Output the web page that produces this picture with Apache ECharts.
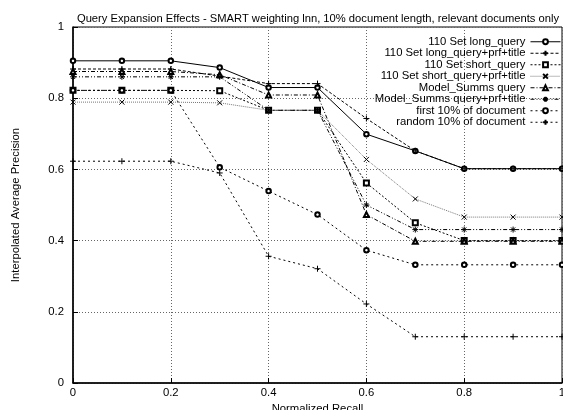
<!DOCTYPE html>
<html>
<head>
<meta charset="utf-8">
<script src="https://cdn.jsdelivr.net/npm/echarts@6/dist/echarts.min.js"></script>
<style>
  html, body { margin: 0; padding: 0; background: #fff; }
  #container { width: 563px; height: 410px; }
</style>
</head>
<body>
<div id="container"></div>
<script>
// recall points (x) and precision per run (y)
const recall = [0, 0.1, 0.2, 0.3, 0.4, 0.5, 0.6, 0.7, 0.8, 0.9, 1.0];
const longQuery   = [0.905, 0.905, 0.905, 0.886, 0.830, 0.830, 0.699, 0.652, 0.602, 0.602, 0.602];
const longPrf     = [0.882, 0.882, 0.882, 0.862, 0.841, 0.841, 0.743, 0.652, 0.602, 0.602, 0.602];
const shortQuery  = [0.822, 0.822, 0.822, 0.821, 0.766, 0.766, 0.562, 0.450, 0.400, 0.400, 0.400];
const shortPrf    = [0.789, 0.789, 0.789, 0.787, 0.766, 0.766, 0.628, 0.517, 0.466, 0.466, 0.466];
const modelQuery  = [0.875, 0.875, 0.875, 0.866, 0.809, 0.809, 0.473, 0.398, 0.398, 0.398, 0.398];
const modelPrf    = [0.860, 0.860, 0.860, 0.860, 0.766, 0.766, 0.500, 0.431, 0.431, 0.431, 0.431];
const first10     = [0.822, 0.822, 0.822, 0.606, 0.539, 0.473, 0.373, 0.332, 0.332, 0.332, 0.332];
const random10    = [0.623, 0.623, 0.623, 0.590, 0.356, 0.321, 0.222, 0.130, 0.130, 0.130, 0.130];
const tickLabels  = ['0', '0.2', '0.4', '0.6', '0.8', '1'];

const names = [
  '110 Set long_query',
  '110 Set long_query+prf+title',
  '110 Set short_query',
  '110 Set short_query+prf+title',
  'Model_Summs query',
  'Model_Summs query+prf+title',
  'first 10% of document',
  'random 10% of document'
];

// marker glyphs drawn as stroked paths
const PLUS = 'path://M0,5L10,5M5,0L5,10';
const CROSS = 'path://M0,0L10,10M10,0L0,10';
const STAR = 'path://M0,5L10,5M5,0L5,10M1.5,1.5L8.5,8.5M8.5,1.5L1.5,8.5';

function mk(name, vals, symbol, dash, color, size) {
  const stroked = symbol.indexOf('path://') === 0;
  return {
    name: name,
    type: 'line',
    data: recall.map((r, i) => [r, vals[i]]),
    symbol: symbol,
    symbolSize: size,
    showAllSymbol: true,
    lineStyle: { color: color, width: 1, type: dash },
    itemStyle: stroked
      ? { color: 'rgba(0,0,0,0)', borderColor: '#000', borderWidth: 1 }
      : { color: '#000', borderColor: '#000', borderWidth: 0.9 },
    emphasis: { disabled: true },
    animation: false
  };
}

const series = [
  mk(names[0], longQuery, 'emptyCircle', 'solid', '#000', 4.5),
  mk(names[1], longPrf, PLUS, [3, 2], '#000', 6),
  mk(names[2], shortQuery, 'emptyRect', [2, 2], '#000', 5),
  mk(names[3], shortPrf, CROSS, [1, 1], '#777', 5),
  mk(names[4], modelQuery, 'emptyTriangle', [4, 2, 1, 2], '#000', 5),
  mk(names[5], modelPrf, STAR, [4, 2, 1, 2, 1, 2], '#000', 6),
  mk(names[6], first10, 'emptyCircle', [2, 3], '#000', 4.5),
  mk(names[7], random10, PLUS, [2, 3], '#000', 6)
];

const font = 'Liberation Sans, Arial, sans-serif';
const fs = 11.3;
const gridLine = { show: true, lineStyle: { color: '#666', type: [1, 2], width: 1 } };

const chart = echarts.init(document.getElementById('container'), null, { renderer: 'canvas' });
chart.setOption({
  backgroundColor: '#fff',
  animation: false,
  title: {
    text: 'Query Expansion Effects - SMART weighting lnn, 10% document length, relevant documents only',
    left: 313, top: 8, textAlign: 'center',
    textStyle: { fontFamily: font, fontSize: 11.2, fontWeight: 'normal', color: '#000' }
  },
  legend: {
    orient: 'vertical',
    right: 2, top: 36, padding: 0,
    align: 'right',
    itemWidth: 30, itemHeight: 6, itemGap: 0,
    lineStyle: { width: 1 },
    textStyle: { fontFamily: font, fontSize: fs, color: '#000', lineHeight: 11.5, padding: [0, 0, 0, 0] },
    data: names
  },
  grid: { left: 73, right: 1, top: 27, bottom: 27, outerBoundsMode: 'none',
    show: true, borderColor: '#000', borderWidth: 1 },
  xAxis: {
    type: 'value', min: 0, max: 1, interval: 0.2,
    name: 'Normalized Recall', nameLocation: 'middle', nameGap: 16,
    nameTextStyle: { fontFamily: font, fontSize: fs, color: '#000' },
    axisLine: { show: true, onZero: false, lineStyle: { color: '#000', width: 1.5 } },
    axisTick: { show: true, inside: true, length: 5, lineStyle: { color: '#000' } },
    axisLabel: { fontFamily: font, fontSize: fs, color: '#000', margin: 4,
      formatter: v => tickLabels[Math.round(v * 5)] },
    splitLine: gridLine
  },
  yAxis: {
    type: 'value', min: 0, max: 1, interval: 0.2,
    name: 'Interpolated Average Precision', nameLocation: 'middle', nameGap: 52,
    nameTextStyle: { fontFamily: font, fontSize: fs, color: '#000' },
    axisLine: { show: true, onZero: false, lineStyle: { color: '#000', width: 1.5 } },
    axisTick: { show: true, inside: true, length: 5, lineStyle: { color: '#000' } },
    axisLabel: { fontFamily: font, fontSize: fs, color: '#000', margin: 9,
      formatter: v => tickLabels[Math.round(v * 5)] },
    splitLine: gridLine
  },
  series: series
});
</script>
</body>
</html>
